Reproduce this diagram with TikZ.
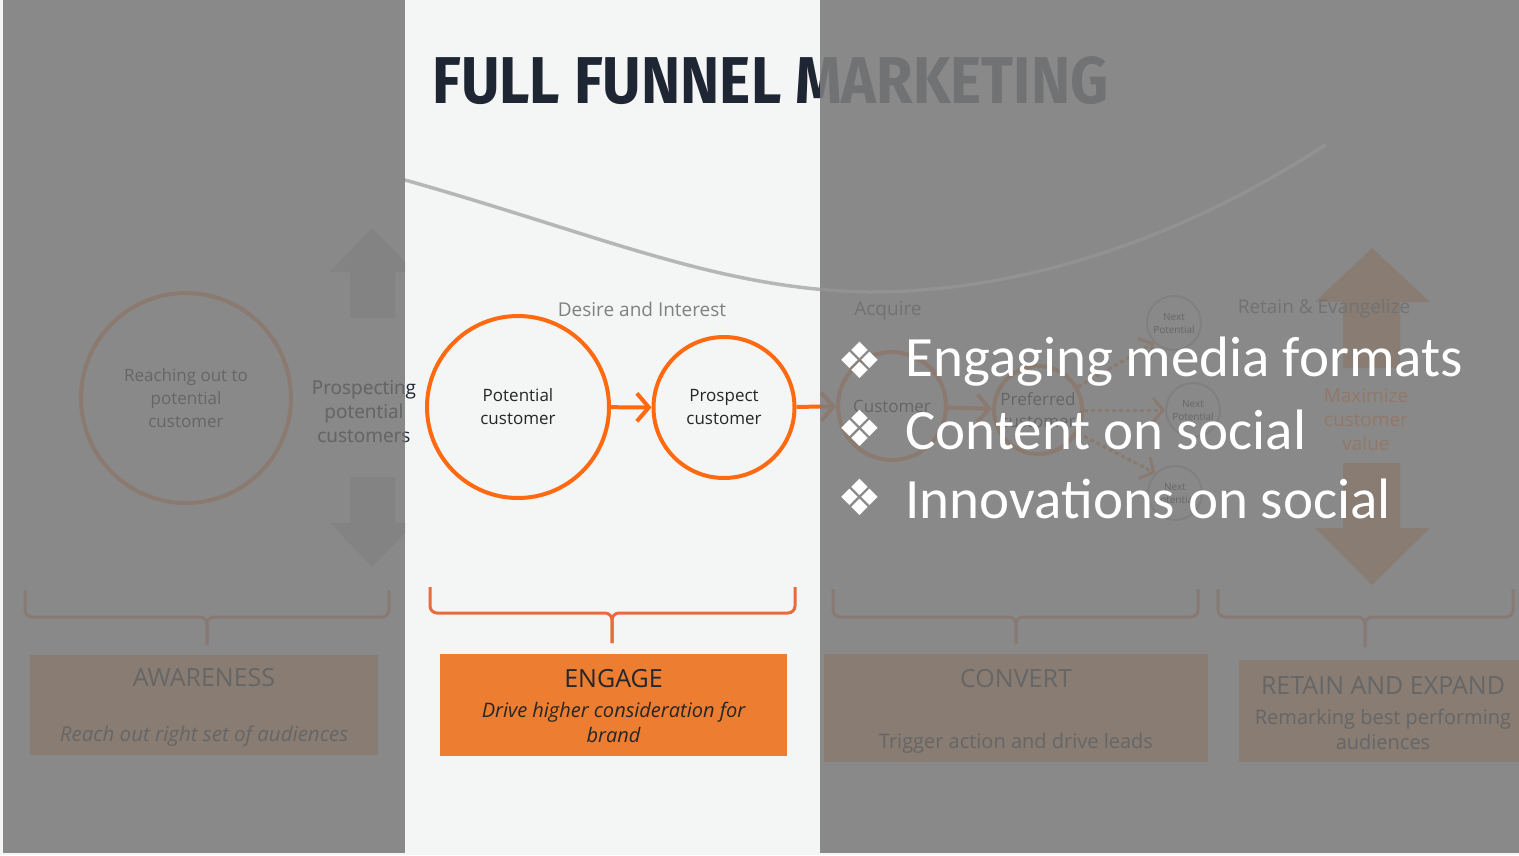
\documentclass[tikz,border=0pt]{standalone}
\usepackage{graphicx}
\usepackage{fontspec}
\setmainfont{Open Sans}
\newfontfamily\bulletfont{Carlito}
\newfontfamily\titlefont{Fira Sans}
\newfontfamily\symfont{DejaVu Sans}
\usetikzlibrary{arrows.meta}

\definecolor{slidebg}{HTML}{F4F5F5}
\definecolor{funnelorange}{HTML}{FF6A10}
\definecolor{boxorange}{HTML}{ED7D31}
\definecolor{braceorange}{HTML}{E96A3B}
\definecolor{titleink}{HTML}{1F2633}
\definecolor{labelgray}{HTML}{808080}
\definecolor{bodyink}{HTML}{262626}
\definecolor{curvegray}{HTML}{B6B6B6}
\definecolor{arrowgray}{HTML}{C2C2C2}
\definecolor{ringgray}{HTML}{A6A6A6}
\definecolor{veil}{HTML}{7C7C7C}
% text colours as they read through the grey veil
\definecolor{veilink}{HTML}{666666}
\definecolor{veillabel}{HTML}{727272}
\definecolor{veilorange}{HTML}{927868}

\tikzset{
  stage/.style={circle, draw=funnelorange, line width=4pt, inner sep=0pt,
    align=center, text=bodyink, font=\fontsize{17}{23}\selectfont},
  nextring/.style={circle, draw=ringgray, line width=2pt, inner sep=0pt,
    minimum size=54pt},
  flow/.style={draw=funnelorange, line width=4pt,
    -{Straight Barb[length=12pt,width=28pt]}},
  dotflow/.style={draw=funnelorange, line width=3pt, dash pattern=on 4pt off 3pt,
    -{Straight Barb[length=10pt,width=24pt]}},
  phasebox/.style={rectangle, fill=boxorange, inner sep=0pt},
  phasehead/.style={text=veilink, font=\fontsize{25}{30}\selectfont},
  phasetext/.style={text=veilink, font=\fontsize{20}{25}\selectfont, align=center},
  brace/.style={draw=braceorange, line width=3pt, rounded corners=7pt},
  label/.style={text=labelgray, font=\fontsize{19}{24}\selectfont, align=center},
  veiled/.style={fill=veil, fill opacity=0.89},
  dimtext/.style={text=veilink, font=\fontsize{17}{23}\selectfont, align=center},
  tinytext/.style={text=veilink, font=\fontsize{10}{13}\selectfont, align=center},
  bullet/.style={anchor=west, text=white, font=\bulletfont\fontsize{57}{64}\selectfont},
  bulletmark/.style={text=white, font=\symfont\fontsize{50}{52}\selectfont},
}

\begin{document}
\begin{tikzpicture}[x=1pt, y=-1pt]
\useasboundingbox (0,0) rectangle (1519,855);
\fill[slidebg] (0,0) rectangle (1519,855);

% title
\node[anchor=south west, inner sep=0pt, text=titleink] (title) at (432,105)
  {\resizebox{676pt}{47pt}{\titlefont\bfseries FULL FUNNEL MARKETING}};

% funnel curve
\draw[curvegray, line width=3.5pt, line cap=round]
  (405,180) .. controls (600,235) and (720,290) .. (870,292)
  .. controls (1020,292) and (1180,240) .. (1325,145);

% ---- awareness: shapes ----
\node[stage, minimum size=210pt] (reach) at (186,398) {};
\begin{scope}
  \clip (0,0) rectangle (405,855);
  \fill[arrowgray] (372,228) -- (415,272) -- (395,272) -- (395,318) -- (350,318)
    -- (350,272) -- (330,272) -- cycle;
  \fill[arrowgray] (350,477) -- (395,477) -- (395,523) -- (415,523) -- (372,567)
    -- (330,523) -- (350,523) -- cycle;
\end{scope}
\node[label, text=titleink] (prospecting) at (364,412) {Prospecting\\potential\\customers};
\draw[brace] (25,590) |- (207,617) -- (207,645);
\draw[brace] (389,590) |- (207,617) -- (207,645);
\node[phasebox, minimum width=348pt, minimum height=100pt] (awareness) at (204,705) {};

% ---- engage ----
\node[label] (desire) at (642,309) {Desire and Interest};
\node[stage, minimum size=182pt] (potential) at (518,407) {Potential\\customer};
\node[stage, minimum size=141pt] (prospect) at (724,407.5) {Prospect\\customer};
\draw[flow] (potential) -- (prospect);
\draw[brace] (430,587) |- (612,613) -- (612,643);
\draw[brace] (795,587) |- (612,613) -- (612,643);
\node[phasebox, minimum width=347pt, minimum height=102pt] (engage) at (613.5,705) {};
\node[text=bodyink, font=\fontsize{25}{30}\selectfont] at (613.5,679) {ENGAGE};
\node[text=bodyink, font=\itshape\fontsize{20}{25}\selectfont, align=center] at (613.5,722)
  {Drive higher consideration for\\brand};

% ---- convert: shapes ----
\node[stage, minimum size=108pt] (customer) at (892,406) {};
\node[stage, minimum size=88pt] (preferred) at (1038,410) {};
\node[nextring] (np1) at (1174,323) {};
\node[nextring] (np2) at (1193,410) {};
\node[nextring] (np3) at (1175,493) {};
\draw[flow] (prospect) -- (customer);
\draw[flow] (customer) -- (preferred);
\draw[dotflow] (preferred.30) -- (np1.225);
\draw[dotflow] (preferred) -- (np2);
\draw[dotflow] (preferred.-30) -- (np3.135);
\draw[brace] (833,589) |- (1016,617) -- (1016,644);
\draw[brace] (1198,589) |- (1016,617) -- (1016,644);
\node[phasebox, minimum width=384pt, minimum height=108pt] (convert) at (1016,708) {};

% ---- retain: shapes ----
\fill[boxorange] (1372,248) -- (1430,302) -- (1400,302) -- (1400,368) -- (1343,368)
  -- (1343,302) -- (1315,302) -- cycle;
\fill[boxorange] (1343,463) -- (1400,463) -- (1400,528) -- (1430,528) -- (1372,585)
  -- (1315,528) -- (1343,528) -- cycle;
\draw[brace] (1218,589) |- (1365,617) -- (1365,647);
\draw[brace] (1513,589) |- (1365,617) -- (1365,647);
\node[phasebox, minimum width=300pt, minimum height=102pt] (expand) at (1389,711) {};

% dim everything outside the engage column
\fill[veiled] (3,0) rectangle (405,853);
\fill[veiled] (820,0) rectangle (1519,853);
\begin{scope}
  \clip (820,0) rectangle (1519,853);
  \draw[white, opacity=0.13, line width=3.5pt, line cap=round]
    (405,180) .. controls (600,235) and (720,290) .. (870,292)
    .. controls (1020,292) and (1180,240) .. (1325,145);
\end{scope}

% texts of the dimmed columns
\node[dimtext] at (reach.center) {Reaching out to\\potential\\customer};
\begin{scope}
  \clip (0,0) rectangle (405,855);
  \node[label, text=veilink] at (364,412) {Prospecting\\potential\\customers};
\end{scope}
\node[phasehead] at (204,678) {AWARENESS};
\node[phasetext, font=\itshape\fontsize{20.5}{25}\selectfont] at (204,736) {Reach out right set of audiences};

\node[label, text=veillabel] (acquire) at (888,311) {Acquire};
\node[dimtext] at (customer.center) {Customer};
\node[dimtext, font=\fontsize{17}{22}\selectfont] at (preferred.center) {Preferred\\customer};
\node[tinytext] at (np1.center) {Next\\Potential};
\node[tinytext] at (np2.center) {Next\\Potential};
\node[tinytext] at (np3.center) {Next\\Potential};
\node[phasehead] at (1016,679) {CONVERT};
\node[phasetext] at (1016,743) {Trigger action and drive leads};

\node[label, text=veillabel] (retain) at (1324,309) {Retain \& Evangelize};
\node[label, text=veilorange] (maximize) at (1366,420) {Maximize\\customer\\value};
\node[phasehead] at (1383,686) {RETAIN AND EXPAND};
\node[phasetext] at (1383,729) {Remarking best performing\\audiences};

% talking points
\node[bulletmark] (m1) at (860,360) {❖};
\node[bulletmark] (m2) at (860,428) {❖};
\node[bulletmark] (m3) at (860,497) {❖};
\node[bullet] (b1) at (902,362) {Engaging media formats};
\node[bullet] (b2) at (902,430) {Content on social};
\node[bullet] (b3) at (902,499) {Innovations on social};
\end{tikzpicture}
\end{document}
